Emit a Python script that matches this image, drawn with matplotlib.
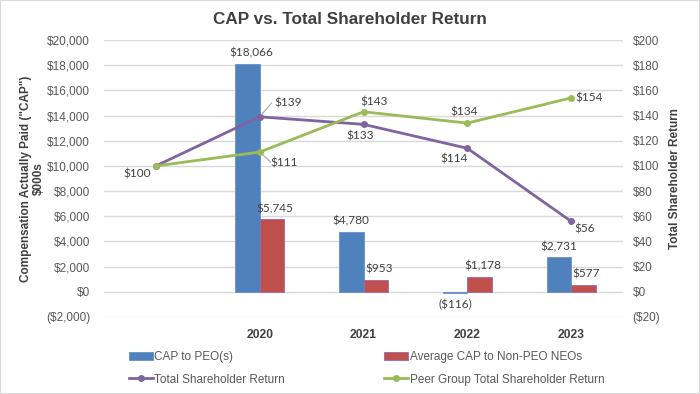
import numpy as np
import matplotlib.pyplot as plt
from matplotlib.patches import Rectangle
from matplotlib.ticker import FuncFormatter

# data
years = ['', '2020', '2021', '2022', '2023']
cap_peo = [np.nan, 18066, 4780, -116, 2731]
cap_neo = [np.nan, 5745, 953, 1178, 577]
tsr = [100, 139, 133, 114, 56]
peer_tsr = [100, 111, 143, 134, 154]

blue = '#4F81BD'
red = '#C0504D'
purple = '#8064A2'
green = '#9BBB59'
grey = '#595959'

plt.rcParams['font.family'] = ['Liberation Sans', 'DejaVu Sans']

def money(v, pos=None):
    if v < 0:
        return '(${:,.0f})'.format(-v)
    return '${:,.0f}'.format(v)

fig = plt.figure(figsize=(7, 3.94), dpi=100)
fig.patches.append(Rectangle((0, 0), 1, 1, transform=fig.transFigure, fill=False,
                             edgecolor='#D9D9D9', linewidth=1.5))
ax = fig.add_axes([104 / 700, 1 - 317 / 394, 519 / 700, 277 / 394])
ax2 = ax.twinx()

x = np.arange(len(years))
w = 0.236
b1 = ax.bar(x - w / 2, cap_peo, w, color=blue, edgecolor='#6A8FC8', linewidth=0.6,
            label='CAP to PEO(s)')
b2 = ax.bar(x + w / 2, cap_neo, w, color=red, edgecolor='#9A6AA8', linewidth=0.6,
            label='Average CAP to Non-PEO NEOs')

ax.set_ylim(-2000, 20000)
ax.set_yticks(np.arange(-2000, 20001, 2000))
ax.yaxis.set_major_formatter(FuncFormatter(money))
ax.set_xlim(-0.5, len(years) - 0.5)
ax.set_xticks(x)
ax.set_xticklabels(years, fontweight='bold', fontsize=8.7, color='#404040')
ax.tick_params(axis='x', length=0, pad=9)
ax.tick_params(axis='y', length=0, pad=10, labelsize=8.5, labelcolor=grey)
ax.grid(axis='y', color='#D9D9D9', linewidth=1)
ax.set_axisbelow(True)
for s in ax.spines.values():
    s.set_visible(False)

l1, = ax2.plot(x, tsr, color=purple, linewidth=2, marker='o', markersize=4,
               label='Total Shareholder Return')
l2, = ax2.plot(x, peer_tsr, color=green, linewidth=2, marker='o', markersize=4,
               label='Peer Group Total Shareholder Return')
ax2.set_ylim(-20, 200)
ax2.set_yticks(np.arange(-20, 201, 20))
ax2.yaxis.set_major_formatter(FuncFormatter(money))
ax2.tick_params(axis='y', length=0, pad=7, labelsize=8.5, labelcolor=grey)
for s in ax2.spines.values():
    s.set_visible(False)

ax.set_ylabel('Compensation Actually Paid ("CAP")\n$000s', fontweight='bold',
              fontsize=8.5, color='#404040', labelpad=1, linespacing=1.1)
ax2.set_ylabel('Total Shareholder Return', fontweight='bold', fontsize=8.5,
               color='#404040', labelpad=6)

fig.text(0.5, 1 - 20 / 394, 'CAP vs. Total Shareholder Return', ha='center',
         va='center', fontsize=12.3, fontweight='bold', color='#404040')

lab = dict(fontsize=8.5, color='#404040', family=['Lato', 'DejaVu Sans'],
           ha='center', va='center', textcoords='offset pixels')

# bar labels
for i in range(1, len(years)):
    v = cap_peo[i]
    ax.annotate(money(v), (x[i] - w / 2, max(v, 0)), xytext=(4 if i == 1 else 0, 11 if v > 0 else -13), **lab)
    v = cap_neo[i]
    ax.annotate(money(v), (x[i] + w / 2, v), xytext=(3, 11), **lab)

# line labels (offsets in pixels)
tsr_off = [(-19, -8), (28, 14), (-3, -12), (-13, -11), (14, -8)]
peer_off = [None, (24, -11), (11, 10), (-3, 11), (18, 0)]
for i in range(len(years)):
    ax2.annotate(money(tsr[i]), (x[i], tsr[i]), xytext=tsr_off[i], **lab)
    if peer_off[i] is not None:
        ax2.annotate(money(peer_tsr[i]), (x[i], peer_tsr[i]), xytext=peer_off[i], **lab)

# leader lines for 2020 labels
ax2.annotate('', (x[1], tsr[1]), xytext=(12, 14), textcoords='offset pixels',
             arrowprops=dict(arrowstyle='-', color='#A6A6A6', lw=0.8,
                             shrinkA=0, shrinkB=3))
ax2.annotate('', (x[1], peer_tsr[1]), xytext=(11, -10), textcoords='offset pixels',
             arrowprops=dict(arrowstyle='-', color='#A6A6A6', lw=0.8,
                             shrinkA=0, shrinkB=3))

fig.legend([b1, l1, b2, l2],
           [b1.get_label(), l1.get_label(), b2.get_label(), l2.get_label()],
           ncol=2, loc='upper left', bbox_to_anchor=(129 / 700, 1 - 351 / 394),
           frameon=False, fontsize=8.5, labelcolor=grey, handlelength=2.0,
           handletextpad=0.15, columnspacing=8.4, labelspacing=0.9,
           borderpad=0, borderaxespad=0)

fig.savefig('out.png', dpi=100)
